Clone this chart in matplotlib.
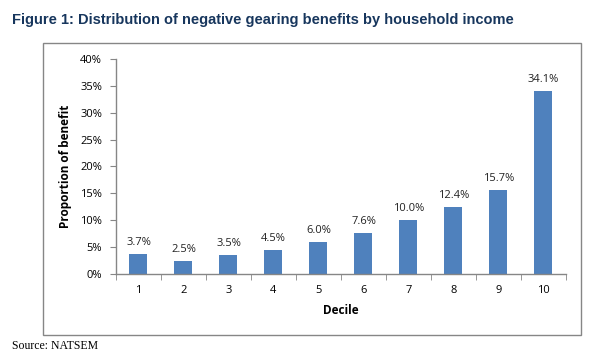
import numpy as np
import matplotlib.pyplot as plt
from matplotlib.patches import Rectangle
from matplotlib.ticker import PercentFormatter

deciles = ['1', '2', '3', '4', '5', '6', '7', '8', '9', '10']
benefit = [3.7, 2.5, 3.5, 4.5, 6.0, 7.6, 10.0, 12.4, 15.7, 34.1]

plt.rcParams['font.family'] = ['Open Sans', 'DejaVu Sans']

fig = plt.figure(figsize=(5.9, 3.63), dpi=100)

# outer chart frame
fig.patches.append(Rectangle((0.0729, 0.0771), 0.9118, 0.8044, transform=fig.transFigure,
                             fill=False, edgecolor='#868686', linewidth=1.0))

ax = fig.add_axes([0.1966, 0.2452, 0.7627, 0.5923])
x = np.arange(1, len(deciles) + 1)
ax.bar(x, benefit, width=0.4, color='#4F81BD', zorder=2)

for xi, v in zip(x, benefit):
    ax.text(xi, v + 1.1, '%.1f%%' % v, ha='center', va='bottom', fontsize=8, color='#222222')

ax.set_xlim(0.5, 10.5)
ax.set_ylim(0, 40)
ax.set_yticks(np.arange(0, 41, 5))
ax.yaxis.set_major_formatter(PercentFormatter(decimals=0))
ax.set_xticks(x)
ax.set_xticklabels(deciles)
ax.set_xticks(np.arange(0.5, 11, 1), minor=True)
ax.tick_params(axis='x', which='major', length=0, pad=8, labelsize=8)
ax.tick_params(axis='x', which='minor', length=4, color='#868686', direction='out')
ax.tick_params(axis='y', length=4, color='#868686', direction='out', pad=6, labelsize=8)

for s in ['top', 'right']:
    ax.spines[s].set_visible(False)
for s in ['left', 'bottom']:
    ax.spines[s].set_color('#868686')
    ax.spines[s].set_linewidth(1.0)

ax.set_xlabel('Decile', fontsize=8.5, fontweight='bold', labelpad=6)
ax.set_ylabel('Proportion of benefit', fontsize=8.5, fontweight='bold', labelpad=6)

fig.text(0.02, 0.945, 'Figure 1: Distribution of negative gearing benefits by household income',
         fontsize=10.5, fontweight='bold', color='#17365D', family='Liberation Sans', va='center')
fig.text(0.02, 0.047, 'Source: NATSEM', fontsize=8.5, family='Liberation Serif', va='center')

fig.savefig('out.png', dpi=100)
